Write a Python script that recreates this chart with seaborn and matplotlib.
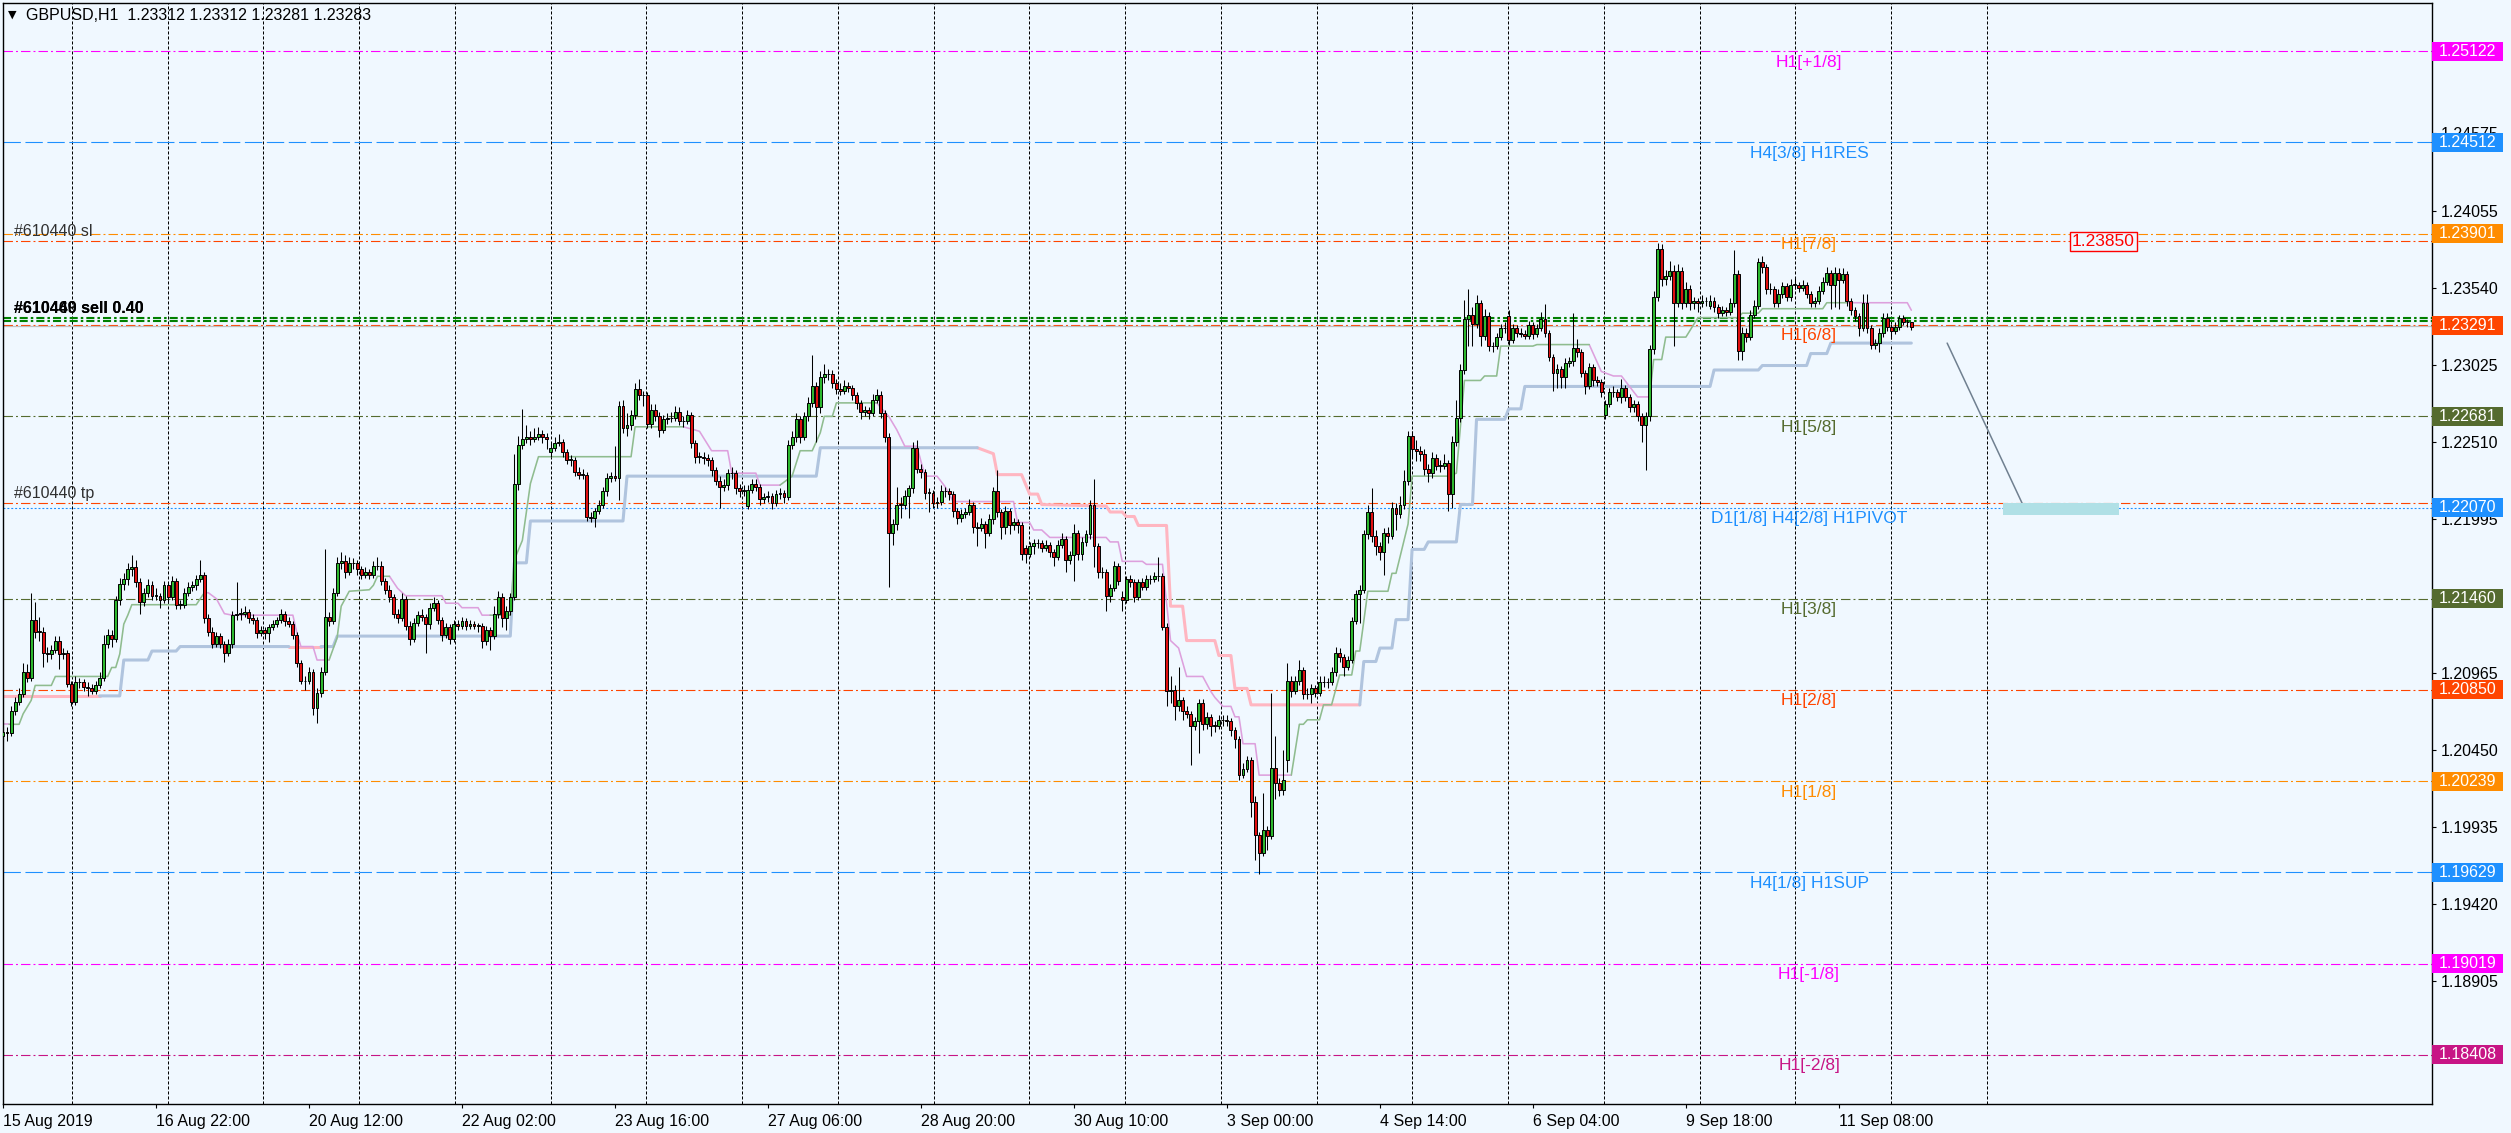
import numpy as np
import pandas as pd
import matplotlib
matplotlib.use("Agg")
import matplotlib.pyplot as plt
import matplotlib.transforms as mtransforms
from matplotlib.patches import Rectangle
import seaborn as sns

BG = "#f0f8ff"
BULL = "#2eb82e"
BEAR = "#e01010"
PLUM = "#dda0dd"
SEAGREEN = "#8fbc8f"
PINK = "#ffb6c1"
STEEL = "#b0c4de"

# ---- GBPUSD H1 candles, bar 0 = 15 Aug 2019 08:00 ----
opens = [
    1.2054, 1.2057, 1.2056, 1.2071, 1.2077, 1.2082, 1.2097, 1.2093, 1.2132, 1.2124,
    1.2124, 1.2110, 1.2109, 1.2112, 1.2118, 1.2109, 1.2110, 1.2089, 1.2077, 1.2090,
    1.2090, 1.2087, 1.2086, 1.2084, 1.2088, 1.2093, 1.2116, 1.2122, 1.2119, 1.2145,
    1.2156, 1.2159, 1.2166, 1.2167, 1.2157, 1.2144, 1.2150, 1.2155, 1.2148, 1.2148,
    1.2145, 1.2155, 1.2147, 1.2158, 1.2142, 1.2142, 1.2150, 1.2154, 1.2155, 1.2159,
    1.2162, 1.2133, 1.2124, 1.2116, 1.2121, 1.2116, 1.2110, 1.2116, 1.2135, 1.2136,
    1.2136, 1.2137, 1.2133, 1.2132, 1.2123, 1.2125, 1.2123, 1.2127, 1.2129, 1.2132,
    1.2136, 1.2131, 1.2129, 1.2122, 1.2103, 1.2091, 1.2091, 1.2097, 1.2073, 1.2083,
    1.2097, 1.2134, 1.2131, 1.2150, 1.2170, 1.2171, 1.2164, 1.2170, 1.2170, 1.2166,
    1.2162, 1.2164, 1.2162, 1.2168, 1.2168, 1.2158, 1.2152, 1.2147, 1.2136, 1.2133,
    1.2146, 1.2128, 1.2119, 1.2130, 1.2135, 1.2134, 1.2129, 1.2140, 1.2143, 1.2132,
    1.2122, 1.2127, 1.2119, 1.2129, 1.2128, 1.2131, 1.2128, 1.2129, 1.2128, 1.2128,
    1.2118, 1.2125, 1.2121, 1.2136, 1.2147, 1.2133, 1.2138, 1.2147, 1.2223, 1.2249,
    1.2253, 1.2254, 1.2253, 1.2254, 1.2256, 1.2254, 1.2244, 1.2247, 1.2250, 1.2251,
    1.2244, 1.2239, 1.2239, 1.2231, 1.2229, 1.2229, 1.2201, 1.2200, 1.2205, 1.2209,
    1.2218, 1.2227, 1.2228, 1.2227, 1.2275, 1.2260, 1.2262, 1.2269, 1.2286, 1.2282,
    1.2282, 1.2263, 1.2272, 1.2268, 1.2259, 1.2266, 1.2267, 1.2267, 1.2271, 1.2265,
    1.2265, 1.2269, 1.2250, 1.2241, 1.2241, 1.2240, 1.2239, 1.2232, 1.2225, 1.2221,
    1.2222, 1.2230, 1.2230, 1.2220, 1.2218, 1.2208, 1.2219, 1.2223, 1.2221, 1.2213,
    1.2214, 1.2215, 1.2210, 1.2216, 1.2217, 1.2214, 1.2249, 1.2254, 1.2266, 1.2254,
    1.2268, 1.2277, 1.2288, 1.2274, 1.2294, 1.2296, 1.2296, 1.2290, 1.2286, 1.2285,
    1.2288, 1.2287, 1.2282, 1.2277, 1.2271, 1.2272, 1.2270, 1.2279, 1.2282, 1.2270,
    1.2254, 1.2190, 1.2196, 1.2209, 1.2209, 1.2215, 1.2220, 1.2247, 1.2233, 1.2231,
    1.2217, 1.2217, 1.2210, 1.2211, 1.2218, 1.2218, 1.2216, 1.2205, 1.2200, 1.2203,
    1.2204, 1.2209, 1.2194, 1.2193, 1.2196, 1.2190, 1.2199, 1.2218, 1.2204, 1.2194,
    1.2205, 1.2195, 1.2197, 1.2195, 1.2180, 1.2176, 1.2181, 1.2183, 1.2183, 1.2180,
    1.2182, 1.2177, 1.2174, 1.2182, 1.2186, 1.2172, 1.2175, 1.2190, 1.2176, 1.2184,
    1.2189, 1.2209, 1.2181, 1.2164, 1.2164, 1.2148, 1.2153, 1.2168, 1.2147, 1.2145,
    1.2159, 1.2157, 1.2147, 1.2157, 1.2154, 1.2159, 1.2159, 1.2161, 1.2161, 1.2127,
    1.2084, 1.2085, 1.2074, 1.2078, 1.2071, 1.2069, 1.2061, 1.2064, 1.2076, 1.2062,
    1.2067, 1.2061, 1.2061, 1.2065, 1.2065, 1.2064, 1.2058, 1.2052, 1.2028, 1.2032,
    1.2038, 1.2010, 1.1988, 1.1976, 1.1991, 1.1987, 1.2033, 1.2023, 1.2018, 1.2038,
    1.2091, 1.2084, 1.2091, 1.2098, 1.2082, 1.2082, 1.2086, 1.2083, 1.2090, 1.2090,
    1.2090, 1.2097, 1.2110, 1.2107, 1.2100, 1.2105, 1.2131, 1.2149, 1.2152, 1.2189,
    1.2204, 1.2188, 1.2181, 1.2177, 1.2190, 1.2188, 1.2207, 1.2203, 1.2209, 1.2225,
    1.2255, 1.2246, 1.2245, 1.2243, 1.2233, 1.2230, 1.2240, 1.2235, 1.2235, 1.2237,
    1.2216, 1.2251, 1.2267, 1.2299, 1.2333, 1.2336, 1.2330, 1.2344, 1.2322, 1.2335,
    1.2315, 1.2315, 1.2321, 1.2327, 1.2335, 1.2319, 1.2327, 1.2324, 1.2323, 1.2322,
    1.2329, 1.2323, 1.2327, 1.2333, 1.2324, 1.2308, 1.2297, 1.2300, 1.2294, 1.2304,
    1.2305, 1.2314, 1.2311, 1.2297, 1.2288, 1.2301, 1.2292, 1.2291, 1.2269, 1.2276,
    1.2284, 1.2284, 1.2281, 1.2287, 1.2281, 1.2274, 1.2276, 1.2268, 1.2262, 1.2268,
    1.2313, 1.2348, 1.2380, 1.2360, 1.2362, 1.2365, 1.2344, 1.2365, 1.2344, 1.2353,
    1.2344, 1.2345, 1.2344, 1.2345, 1.2342, 1.2345, 1.2341, 1.2337, 1.2339, 1.2338,
    1.2344, 1.2363, 1.2312, 1.2324, 1.2321, 1.2336, 1.2342, 1.2371, 1.2368, 1.2353,
    1.2353, 1.2344, 1.2350, 1.2355, 1.2348, 1.2356, 1.2356, 1.2354, 1.2356, 1.2350,
    1.2344, 1.2345, 1.2352, 1.2358, 1.2364, 1.2356, 1.2364, 1.2359, 1.2363, 1.2345,
    1.2339, 1.2335, 1.2327, 1.2344, 1.2327, 1.2316, 1.2317, 1.2324, 1.2334, 1.2328,
    1.2325, 1.2328, 1.2334, 1.2331, 1.2331,
]
highs = [
    1.2061, 1.2060, 1.2074, 1.2080, 1.2086, 1.2103, 1.2102, 1.2150, 1.2144, 1.2134,
    1.2127, 1.2114, 1.2115, 1.2121, 1.2121, 1.2113, 1.2112, 1.2091, 1.2094, 1.2093,
    1.2092, 1.2090, 1.2089, 1.2091, 1.2097, 1.2122, 1.2126, 1.2125, 1.2148, 1.2160,
    1.2163, 1.2170, 1.2175, 1.2172, 1.2160, 1.2153, 1.2159, 1.2158, 1.2153, 1.2150,
    1.2158, 1.2157, 1.2161, 1.2160, 1.2145, 1.2153, 1.2157, 1.2158, 1.2162, 1.2172,
    1.2164, 1.2136, 1.2127, 1.2124, 1.2123, 1.2118, 1.2119, 1.2138, 1.2157, 1.2140,
    1.2141, 1.2139, 1.2136, 1.2134, 1.2128, 1.2127, 1.2129, 1.2132, 1.2134, 1.2139,
    1.2138, 1.2134, 1.2131, 1.2124, 1.2105, 1.2094, 1.2100, 1.2099, 1.2086, 1.2100,
    1.2179, 1.2137, 1.2153, 1.2174, 1.2177, 1.2175, 1.2174, 1.2173, 1.2172, 1.2168,
    1.2167, 1.2166, 1.2171, 1.2174, 1.2171, 1.2160, 1.2155, 1.2149, 1.2139, 1.2150,
    1.2148, 1.2131, 1.2133, 1.2138, 1.2139, 1.2136, 1.2143, 1.2147, 1.2145, 1.2134,
    1.2130, 1.2129, 1.2132, 1.2132, 1.2134, 1.2133, 1.2132, 1.2131, 1.2130, 1.2130,
    1.2128, 1.2127, 1.2141, 1.2151, 1.2150, 1.2141, 1.2150, 1.2243, 1.2255, 1.2273,
    1.2262, 1.2258, 1.2260, 1.2261, 1.2259, 1.2257, 1.2250, 1.2254, 1.2256, 1.2253,
    1.2246, 1.2242, 1.2241, 1.2234, 1.2233, 1.2231, 1.2204, 1.2207, 1.2212, 1.2221,
    1.2230, 1.2231, 1.2248, 1.2278, 1.2279, 1.2270, 1.2272, 1.2290, 1.2293, 1.2285,
    1.2284, 1.2276, 1.2276, 1.2271, 1.2269, 1.2270, 1.2271, 1.2275, 1.2274, 1.2268,
    1.2272, 1.2271, 1.2252, 1.2244, 1.2244, 1.2243, 1.2241, 1.2234, 1.2228, 1.2226,
    1.2233, 1.2234, 1.2232, 1.2223, 1.2222, 1.2222, 1.2226, 1.2226, 1.2223, 1.2217,
    1.2218, 1.2217, 1.2219, 1.2220, 1.2219, 1.2252, 1.2258, 1.2270, 1.2268, 1.2271,
    1.2281, 1.2309, 1.2291, 1.2298, 1.2303, 1.2300, 1.2299, 1.2293, 1.2290, 1.2292,
    1.2291, 1.2289, 1.2284, 1.2279, 1.2275, 1.2274, 1.2283, 1.2286, 1.2285, 1.2272,
    1.2257, 1.2199, 1.2221, 1.2214, 1.2219, 1.2222, 1.2251, 1.2252, 1.2236, 1.2233,
    1.2220, 1.2219, 1.2214, 1.2222, 1.2221, 1.2220, 1.2218, 1.2207, 1.2206, 1.2207,
    1.2213, 1.2211, 1.2197, 1.2200, 1.2198, 1.2203, 1.2221, 1.2232, 1.2206, 1.2208,
    1.2207, 1.2200, 1.2199, 1.2197, 1.2182, 1.2184, 1.2186, 1.2186, 1.2185, 1.2185,
    1.2184, 1.2179, 1.2185, 1.2190, 1.2188, 1.2178, 1.2196, 1.2192, 1.2187, 1.2192,
    1.2212, 1.2226, 1.2183, 1.2167, 1.2166, 1.2156, 1.2171, 1.2170, 1.2151, 1.2161,
    1.2162, 1.2159, 1.2159, 1.2160, 1.2162, 1.2162, 1.2164, 1.2174, 1.2163, 1.2130,
    1.2094, 1.2088, 1.2100, 1.2080, 1.2074, 1.2071, 1.2067, 1.2079, 1.2079, 1.2070,
    1.2069, 1.2064, 1.2068, 1.2068, 1.2068, 1.2066, 1.2060, 1.2054, 1.2036, 1.2041,
    1.2040, 1.2014, 1.1990, 1.2016, 1.1994, 1.2083, 1.2054, 1.2026, 1.2045, 1.2103,
    1.2094, 1.2094, 1.2105, 1.2100, 1.2086, 1.2089, 1.2088, 1.2094, 1.2094, 1.2093,
    1.2100, 1.2114, 1.2113, 1.2109, 1.2108, 1.2134, 1.2152, 1.2155, 1.2192, 1.2209,
    1.2220, 1.2192, 1.2184, 1.2193, 1.2194, 1.2211, 1.2210, 1.2215, 1.2232, 1.2258,
    1.2258, 1.2252, 1.2248, 1.2246, 1.2236, 1.2244, 1.2243, 1.2239, 1.2243, 1.2239,
    1.2255, 1.2279, 1.2303, 1.2346, 1.2353, 1.2341, 1.2349, 1.2346, 1.2340, 1.2338,
    1.2318, 1.2324, 1.2330, 1.2331, 1.2339, 1.2330, 1.2329, 1.2327, 1.2326, 1.2332,
    1.2331, 1.2330, 1.2338, 1.2343, 1.2326, 1.2310, 1.2303, 1.2302, 1.2307, 1.2308,
    1.2337, 1.2320, 1.2313, 1.2299, 1.2304, 1.2303, 1.2295, 1.2293, 1.2279, 1.2287,
    1.2288, 1.2286, 1.2293, 1.2289, 1.2283, 1.2279, 1.2278, 1.2270, 1.2271, 1.2316,
    1.2352, 1.2384, 1.2383, 1.2366, 1.2372, 1.2369, 1.2370, 1.2368, 1.2358, 1.2356,
    1.2348, 1.2347, 1.2349, 1.2348, 1.2349, 1.2348, 1.2343, 1.2342, 1.2341, 1.2347,
    1.2379, 1.2366, 1.2328, 1.2327, 1.2339, 1.2346, 1.2374, 1.2375, 1.2370, 1.2357,
    1.2355, 1.2353, 1.2358, 1.2357, 1.2360, 1.2361, 1.2358, 1.2359, 1.2358, 1.2352,
    1.2348, 1.2355, 1.2361, 1.2368, 1.2366, 1.2368, 1.2367, 1.2367, 1.2365, 1.2347,
    1.2341, 1.2337, 1.2350, 1.2350, 1.2329, 1.2320, 1.2327, 1.2337, 1.2337, 1.2330,
    1.2331, 1.2336, 1.2336, 1.2333, 1.2331,
]
lows = [
    1.2050, 1.2051, 1.2054, 1.2068, 1.2075, 1.2080, 1.2090, 1.2091, 1.2120, 1.2118,
    1.2100, 1.2104, 1.2106, 1.2110, 1.2099, 1.2106, 1.2087, 1.2074, 1.2075, 1.2086,
    1.2084, 1.2081, 1.2082, 1.2082, 1.2086, 1.2091, 1.2113, 1.2114, 1.2117, 1.2142,
    1.2152, 1.2155, 1.2161, 1.2154, 1.2136, 1.2141, 1.2147, 1.2145, 1.2145, 1.2140,
    1.2143, 1.2144, 1.2145, 1.2139, 1.2139, 1.2140, 1.2148, 1.2151, 1.2152, 1.2157,
    1.2130, 1.2121, 1.2113, 1.2114, 1.2113, 1.2104, 1.2108, 1.2113, 1.2132, 1.2132,
    1.2134, 1.2130, 1.2129, 1.2120, 1.2121, 1.2119, 1.2117, 1.2125, 1.2127, 1.2130,
    1.2128, 1.2127, 1.2119, 1.2100, 1.2089, 1.2085, 1.2089, 1.2068, 1.2063, 1.2080,
    1.2095, 1.2128, 1.2129, 1.2148, 1.2166, 1.2160, 1.2162, 1.2166, 1.2162, 1.2159,
    1.2160, 1.2159, 1.2160, 1.2165, 1.2155, 1.2149, 1.2144, 1.2133, 1.2130, 1.2131,
    1.2125, 1.2115, 1.2117, 1.2128, 1.2131, 1.2110, 1.2126, 1.2138, 1.2129, 1.2118,
    1.2120, 1.2116, 1.2117, 1.2125, 1.2126, 1.2125, 1.2126, 1.2126, 1.2124, 1.2113,
    1.2115, 1.2112, 1.2119, 1.2133, 1.2127, 1.2125, 1.2135, 1.2145, 1.2219, 1.2246,
    1.2250, 1.2249, 1.2251, 1.2252, 1.2250, 1.2246, 1.2241, 1.2245, 1.2248, 1.2241,
    1.2236, 1.2235, 1.2228, 1.2226, 1.2226, 1.2198, 1.2197, 1.2194, 1.2203, 1.2207,
    1.2215, 1.2224, 1.2225, 1.2212, 1.2257, 1.2255, 1.2259, 1.2266, 1.2279, 1.2275,
    1.2260, 1.2260, 1.2265, 1.2254, 1.2257, 1.2263, 1.2264, 1.2265, 1.2262, 1.2261,
    1.2263, 1.2247, 1.2237, 1.2237, 1.2236, 1.2235, 1.2228, 1.2222, 1.2207, 1.2218,
    1.2219, 1.2226, 1.2216, 1.2214, 1.2215, 1.2206, 1.2217, 1.2218, 1.2209, 1.2210,
    1.2211, 1.2206, 1.2208, 1.2213, 1.2210, 1.2212, 1.2246, 1.2251, 1.2250, 1.2252,
    1.2265, 1.2274, 1.2251, 1.2270, 1.2290, 1.2292, 1.2287, 1.2283, 1.2282, 1.2283,
    1.2284, 1.2279, 1.2273, 1.2266, 1.2268, 1.2266, 1.2268, 1.2277, 1.2267, 1.2251,
    1.2154, 1.2182, 1.2192, 1.2200, 1.2206, 1.2200, 1.2217, 1.2230, 1.2227, 1.2213,
    1.2204, 1.2207, 1.2207, 1.2209, 1.2214, 1.2212, 1.2201, 1.2196, 1.2197, 1.2200,
    1.2202, 1.2190, 1.2181, 1.2191, 1.2180, 1.2188, 1.2196, 1.2201, 1.2186, 1.2189,
    1.2189, 1.2192, 1.2190, 1.2172, 1.2170, 1.2174, 1.2176, 1.2180, 1.2177, 1.2178,
    1.2174, 1.2168, 1.2172, 1.2180, 1.2164, 1.2169, 1.2158, 1.2172, 1.2172, 1.2181,
    1.2186, 1.2167, 1.2160, 1.2160, 1.2138, 1.2144, 1.2151, 1.2155, 1.2138, 1.2143,
    1.2154, 1.2144, 1.2145, 1.2152, 1.2152, 1.2156, 1.2157, 1.2158, 1.2125, 1.2074,
    1.2076, 1.2065, 1.2071, 1.2065, 1.2066, 1.2035, 1.2058, 1.2043, 1.2058, 1.2059,
    1.2054, 1.2057, 1.2059, 1.2061, 1.2061, 1.2054, 1.2046, 1.2025, 1.2026, 1.2030,
    1.2000, 1.1971, 1.1962, 1.1974, 1.1978, 1.1985, 1.2012, 1.2014, 1.2015, 1.2030,
    1.2080, 1.2082, 1.2088, 1.2079, 1.2079, 1.2076, 1.2080, 1.2081, 1.2087, 1.2086,
    1.2088, 1.2094, 1.2104, 1.2094, 1.2098, 1.2103, 1.2129, 1.2130, 1.2150, 1.2186,
    1.2184, 1.2175, 1.2172, 1.2162, 1.2183, 1.2186, 1.2192, 1.2200, 1.2206, 1.2222,
    1.2240, 1.2238, 1.2238, 1.2229, 1.2224, 1.2227, 1.2232, 1.2231, 1.2233, 1.2205,
    1.2207, 1.2248, 1.2264, 1.2296, 1.2315, 1.2315, 1.2327, 1.2315, 1.2319, 1.2312,
    1.2311, 1.2313, 1.2319, 1.2324, 1.2316, 1.2317, 1.2321, 1.2321, 1.2320, 1.2320,
    1.2320, 1.2321, 1.2325, 1.2321, 1.2305, 1.2285, 1.2287, 1.2287, 1.2287, 1.2301,
    1.2302, 1.2308, 1.2294, 1.2283, 1.2286, 1.2288, 1.2288, 1.2281, 1.2266, 1.2274,
    1.2281, 1.2278, 1.2277, 1.2278, 1.2271, 1.2271, 1.2265, 1.2251, 1.2232, 1.2265,
    1.2310, 1.2345, 1.2355, 1.2356, 1.2359, 1.2315, 1.2341, 1.2340, 1.2341, 1.2339,
    1.2340, 1.2338, 1.2341, 1.2342, 1.2340, 1.2338, 1.2334, 1.2335, 1.2335, 1.2336,
    1.2341, 1.2306, 1.2306, 1.2318, 1.2319, 1.2334, 1.2340, 1.2364, 1.2350, 1.2350,
    1.2341, 1.2341, 1.2347, 1.2345, 1.2345, 1.2353, 1.2351, 1.2352, 1.2347, 1.2341,
    1.2341, 1.2343, 1.2350, 1.2356, 1.2340, 1.2341, 1.2340, 1.2357, 1.2342, 1.2336,
    1.2332, 1.2322, 1.2325, 1.2324, 1.2313, 1.2313, 1.2311, 1.2321, 1.2325, 1.2320,
    1.2323, 1.2326, 1.2329, 1.2328, 1.2326,
]
closes = [
    1.2057, 1.2056, 1.2071, 1.2077, 1.2082, 1.2097, 1.2093, 1.2132, 1.2124, 1.2124,
    1.2110, 1.2109, 1.2112, 1.2118, 1.2109, 1.2110, 1.2089, 1.2077, 1.2090, 1.2090,
    1.2087, 1.2086, 1.2084, 1.2088, 1.2093, 1.2116, 1.2122, 1.2119, 1.2145, 1.2156,
    1.2159, 1.2166, 1.2167, 1.2157, 1.2144, 1.2150, 1.2155, 1.2148, 1.2148, 1.2145,
    1.2155, 1.2147, 1.2158, 1.2142, 1.2142, 1.2150, 1.2154, 1.2155, 1.2159, 1.2162,
    1.2133, 1.2124, 1.2116, 1.2121, 1.2116, 1.2110, 1.2116, 1.2135, 1.2136, 1.2136,
    1.2137, 1.2133, 1.2132, 1.2123, 1.2125, 1.2123, 1.2127, 1.2129, 1.2132, 1.2136,
    1.2131, 1.2129, 1.2122, 1.2103, 1.2091, 1.2091, 1.2097, 1.2073, 1.2083, 1.2097,
    1.2134, 1.2131, 1.2150, 1.2170, 1.2171, 1.2164, 1.2170, 1.2170, 1.2166, 1.2162,
    1.2164, 1.2162, 1.2168, 1.2168, 1.2158, 1.2152, 1.2147, 1.2136, 1.2133, 1.2146,
    1.2128, 1.2119, 1.2130, 1.2135, 1.2134, 1.2129, 1.2140, 1.2143, 1.2132, 1.2122,
    1.2127, 1.2119, 1.2129, 1.2128, 1.2131, 1.2128, 1.2129, 1.2128, 1.2128, 1.2118,
    1.2125, 1.2121, 1.2136, 1.2147, 1.2133, 1.2138, 1.2147, 1.2223, 1.2249, 1.2253,
    1.2254, 1.2253, 1.2254, 1.2256, 1.2254, 1.2253, 1.2247, 1.2250, 1.2251, 1.2244,
    1.2239, 1.2239, 1.2231, 1.2229, 1.2229, 1.2201, 1.2200, 1.2205, 1.2209, 1.2218,
    1.2227, 1.2228, 1.2227, 1.2275, 1.2260, 1.2262, 1.2269, 1.2286, 1.2282, 1.2282,
    1.2263, 1.2272, 1.2268, 1.2259, 1.2266, 1.2267, 1.2267, 1.2271, 1.2265, 1.2265,
    1.2269, 1.2250, 1.2241, 1.2241, 1.2240, 1.2239, 1.2232, 1.2225, 1.2221, 1.2222,
    1.2230, 1.2230, 1.2220, 1.2218, 1.2219, 1.2219, 1.2223, 1.2221, 1.2213, 1.2214,
    1.2215, 1.2210, 1.2216, 1.2217, 1.2214, 1.2249, 1.2254, 1.2266, 1.2254, 1.2268,
    1.2277, 1.2288, 1.2274, 1.2294, 1.2296, 1.2296, 1.2290, 1.2286, 1.2285, 1.2288,
    1.2287, 1.2282, 1.2277, 1.2271, 1.2272, 1.2270, 1.2279, 1.2282, 1.2270, 1.2254,
    1.2190, 1.2196, 1.2209, 1.2209, 1.2215, 1.2220, 1.2247, 1.2233, 1.2231, 1.2217,
    1.2217, 1.2210, 1.2211, 1.2218, 1.2218, 1.2216, 1.2205, 1.2200, 1.2203, 1.2204,
    1.2209, 1.2194, 1.2193, 1.2196, 1.2190, 1.2199, 1.2218, 1.2204, 1.2194, 1.2205,
    1.2195, 1.2197, 1.2195, 1.2176, 1.2176, 1.2181, 1.2183, 1.2183, 1.2180, 1.2182,
    1.2177, 1.2174, 1.2182, 1.2186, 1.2172, 1.2175, 1.2190, 1.2176, 1.2184, 1.2189,
    1.2209, 1.2181, 1.2164, 1.2164, 1.2148, 1.2153, 1.2168, 1.2158, 1.2145, 1.2159,
    1.2157, 1.2147, 1.2157, 1.2154, 1.2159, 1.2159, 1.2161, 1.2161, 1.2127, 1.2084,
    1.2085, 1.2074, 1.2078, 1.2071, 1.2069, 1.2061, 1.2064, 1.2076, 1.2062, 1.2067,
    1.2061, 1.2061, 1.2065, 1.2065, 1.2064, 1.2058, 1.2052, 1.2028, 1.2032, 1.2038,
    1.2010, 1.1988, 1.1976, 1.1991, 1.1987, 1.2033, 1.2023, 1.2018, 1.2025, 1.2091,
    1.2084, 1.2091, 1.2098, 1.2082, 1.2082, 1.2086, 1.2083, 1.2090, 1.2090, 1.2090,
    1.2097, 1.2110, 1.2107, 1.2100, 1.2105, 1.2131, 1.2149, 1.2152, 1.2189, 1.2204,
    1.2188, 1.2181, 1.2177, 1.2190, 1.2188, 1.2207, 1.2203, 1.2209, 1.2225, 1.2255,
    1.2246, 1.2245, 1.2243, 1.2233, 1.2230, 1.2240, 1.2235, 1.2235, 1.2237, 1.2216,
    1.2251, 1.2267, 1.2299, 1.2333, 1.2336, 1.2330, 1.2344, 1.2322, 1.2335, 1.2315,
    1.2315, 1.2321, 1.2327, 1.2327, 1.2319, 1.2327, 1.2324, 1.2323, 1.2322, 1.2329,
    1.2323, 1.2327, 1.2333, 1.2324, 1.2308, 1.2297, 1.2300, 1.2294, 1.2304, 1.2305,
    1.2314, 1.2311, 1.2297, 1.2288, 1.2301, 1.2292, 1.2291, 1.2284, 1.2276, 1.2284,
    1.2284, 1.2281, 1.2287, 1.2281, 1.2274, 1.2276, 1.2268, 1.2262, 1.2268, 1.2313,
    1.2348, 1.2380, 1.2360, 1.2362, 1.2365, 1.2344, 1.2365, 1.2344, 1.2353, 1.2344,
    1.2345, 1.2344, 1.2345, 1.2345, 1.2345, 1.2341, 1.2337, 1.2339, 1.2338, 1.2344,
    1.2363, 1.2312, 1.2324, 1.2321, 1.2336, 1.2342, 1.2371, 1.2368, 1.2353, 1.2353,
    1.2344, 1.2350, 1.2355, 1.2348, 1.2356, 1.2356, 1.2354, 1.2356, 1.2350, 1.2344,
    1.2345, 1.2352, 1.2358, 1.2364, 1.2356, 1.2364, 1.2359, 1.2363, 1.2345, 1.2339,
    1.2335, 1.2327, 1.2344, 1.2327, 1.2316, 1.2317, 1.2324, 1.2334, 1.2328, 1.2325,
    1.2328, 1.2334, 1.2331, 1.2331, 1.2328,
]

# ---- trailing stop indicator, (bar, price) vertices ----
plum_segs = [
    [(0, 1.2062), (1.5, 1.2062)],
    [(50, 1.2150), (51, 1.2150), (53, 1.2146), (55, 1.2136), (57, 1.2135), (72, 1.2135),
     (73, 1.2123), (74, 1.2114), (77, 1.2114), (78, 1.2105), (81, 1.2105)],
    [(96, 1.2161), (98, 1.2153), (100, 1.2148), (109, 1.2148), (110, 1.2143), (113, 1.2143),
     (114, 1.2140), (118, 1.2140), (119, 1.2135), (121, 1.2135)],
    [(169, 1.2261), (173, 1.2258), (176, 1.2245), (180, 1.2245), (181, 1.2230), (187, 1.2230),
     (188, 1.2222), (193, 1.2222)],
    [(217, 1.2277), (220, 1.2268), (222, 1.2259), (224, 1.2248), (227, 1.2248), (229, 1.2228),
     (232, 1.2228), (234, 1.2221), (236, 1.2211), (251, 1.2211), (252, 1.2197), (255, 1.2197),
     (256, 1.2192), (258, 1.2192), (260, 1.2187), (274, 1.2187), (275, 1.2184), (277, 1.2184),
     (278, 1.2171), (283, 1.2171), (284, 1.2169), (288, 1.2169), (290, 1.2118), (292, 1.2113),
     (294, 1.2094), (298, 1.2094), (300, 1.2084), (301, 1.2080), (303, 1.2074), (305, 1.2074),
     (306, 1.2067), (307, 1.2067), (308, 1.2049), (311, 1.2049), (312, 1.2028), (320, 1.2028)],
    [(394, 1.2316), (397, 1.2298), (400, 1.2295), (402, 1.2295), (404, 1.2288), (406, 1.2281),
     (409, 1.2281)],
    [(458, 1.2344), (473, 1.2344), (474, 1.2339)],
]
green_segs = [
    [(1.5, 1.2062), (4, 1.2062), (5, 1.2069), (7, 1.2078), (8, 1.2088), (12, 1.2088),
     (13, 1.2094), (26, 1.2094), (27, 1.2100), (28, 1.2100), (29, 1.2109), (30, 1.2129),
     (31, 1.2135), (32, 1.2142), (48, 1.2142), (50, 1.2150)],
    [(81, 1.2105), (83, 1.2120), (84, 1.2141), (86, 1.2151), (91, 1.2152), (92, 1.2155),
     (93, 1.2161), (96, 1.2161)],
    [(121, 1.2135), (126, 1.2135), (127, 1.2172), (129, 1.2185), (131, 1.2223), (133, 1.2241),
     (156, 1.2241), (157, 1.2261), (169, 1.2261)],
    [(193, 1.2222), (196, 1.2228), (198, 1.2245), (201, 1.2245), (203, 1.2257), (204, 1.2268),
     (206, 1.2268), (207, 1.2277), (217, 1.2277)],
    [(320, 1.2028), (322, 1.2062), (323, 1.2062), (324, 1.2065), (327, 1.2065), (328, 1.2075),
     (330, 1.2075), (332, 1.2095), (335, 1.2095), (336, 1.2111), (337, 1.2111), (339, 1.2151),
     (344, 1.2151), (345, 1.2163), (346, 1.2163), (349, 1.2196), (350, 1.2228), (359, 1.2228),
     (361, 1.2230), (363, 1.2292), (367, 1.2292), (368, 1.2295), (371, 1.2295), (372, 1.2315),
     (380, 1.2315), (381, 1.2316), (394, 1.2316)],
    [(409, 1.2281), (410, 1.2306), (412, 1.2306), (413, 1.2321), (418, 1.2321), (421, 1.2334),
     (431, 1.2334), (432, 1.2337), (436, 1.2337), (437, 1.2340), (452, 1.2340), (453, 1.2344),
     (458, 1.2344)],
]
pink_segs = [
    [(0, 1.2081), (24, 1.2081)],
    [(71, 1.2114), (79, 1.2114)],
    [(242, 1.2247), (246, 1.2243), (247, 1.2229), (253, 1.2229), (255, 1.2216), (257, 1.2216),
     (258, 1.2209), (274, 1.2208), (275, 1.2204), (278, 1.2204), (279, 1.2201), (281, 1.2201),
     (282, 1.2195), (289, 1.2195), (290, 1.2141), (293, 1.2141), (294, 1.2118), (301, 1.2118),
     (302, 1.2108), (305, 1.2108), (306, 1.2086), (309, 1.2086), (310, 1.2075), (337, 1.2075)],
]
steel_segs = [
    [(24, 1.2081), (29, 1.2081), (30, 1.2105), (36, 1.2105), (37, 1.2111), (43, 1.2111),
     (44, 1.2114), (71, 1.2114)],
    [(79, 1.2114), (82, 1.2114), (83, 1.2121), (126, 1.2121), (127, 1.2170), (130, 1.2170),
     (131, 1.2198), (154, 1.2198), (155, 1.2228), (202, 1.2228), (203, 1.2247), (242, 1.2247)],
    [(337, 1.2075), (338, 1.2104), (341, 1.2104), (342, 1.2113), (345, 1.2113), (346, 1.2132),
     (349, 1.2132), (350, 1.2179), (353, 1.2179), (354, 1.2184), (361, 1.2184), (362, 1.2209),
     (365, 1.2209), (366, 1.2266), (373, 1.2266), (374, 1.2273), (377, 1.2273), (378, 1.2288),
     (424, 1.2288), (425, 1.2299), (436, 1.2299), (437, 1.2302), (448, 1.2302), (449, 1.2310),
     (453, 1.2310), (454, 1.2317), (474, 1.2317)],
]

# ---- Murrey math levels ----
levels = [1.25122, 1.24512, 1.23901, 1.23291, 1.22681, 1.22070,
          1.21460, 1.20850, 1.20239, 1.19629, 1.19019, 1.18408]
level_names = ["H1[+1/8]", "H4[3/8] H1RES", "H1[7/8]", "H1[6/8]", "H1[5/8]",
               "D1[1/8] H4[2/8] H1PIVOT", "H1[3/8]", "H1[2/8]", "H1[1/8]",
               "H4[1/8] H1SUP", "H1[-1/8]", "H1[-2/8]"]
level_colors = ["#ff00ff", "#1e90ff", "#ff8c00", "#ff4500", "#556b2f", "#1e90ff",
                "#556b2f", "#ff4500", "#ff8c00", "#1e90ff", "#ff00ff", "#c71585"]
DASHDOT = (0, (6.8, 2.2, 1.4, 2.2))
LONGDASH = (0, (12.5, 3.3))
DOTTED = (0, (1.4, 1.4))
level_styles = [DASHDOT, LONGDASH, DASHDOT, DASHDOT, DASHDOT, DOTTED,
                DASHDOT, DASHDOT, DASHDOT, LONGDASH, DASHDOT, DASHDOT]

# orders
sl_price = 1.2385
tp_price = 1.2210
sell_prices = [1.23335, 1.23319]
sell_labels = ["#610469 sell 0.40", "#610440 sell 0.40"]
bid_price = 1.23283

trend_bars = [482.9, 501.5]
trend_prices = [1.2317, 1.2210]
zone_bars = [496.8, 525.6]
zone_prices = [1.2202, 1.2210]

time_ticks = [0, 38, 76, 114, 152, 190, 228, 266, 304, 342, 380, 418, 456]
time_labels = ["15 Aug 2019", "16 Aug 22:00", "20 Aug 12:00", "22 Aug 02:00",
               "23 Aug 16:00", "27 Aug 06:00", "28 Aug 20:00", "30 Aug 10:00",
               "3 Sep 00:00", "4 Sep 14:00", "6 Sep 04:00", "9 Sep 18:00",
               "11 Sep 08:00"]
price_ticks = [1.18905, 1.19420, 1.19935, 1.20450, 1.20965, 1.21480,
               1.21995, 1.22510, 1.23025, 1.23540, 1.24055, 1.24575]

assert len(opens) == len(highs) == len(lows) == len(closes)

sns.set_style("white", {"axes.facecolor": BG, "figure.facecolor": BG})
plt.rcParams["font.family"] = ["Liberation Sans", "DejaVu Sans"]
plt.rcParams["lines.scale_dashes"] = False

W, H = 2511, 1133
L_PX, R_PX, T_PX, B_PX = 3, 2432, 3, 1104
BAR_PX = 4.026
fig = plt.figure(figsize=(W / 100, H / 100), dpi=100)
fig.patch.set_facecolor(BG)
ax = fig.add_axes([L_PX / W, 1 - B_PX / H, (R_PX - L_PX) / W, (B_PX - T_PX) / H])
ax.set_facecolor(BG)

o = np.array(opens)
hi = np.array(highs)
lo = np.array(lows)
c = np.array(closes)
x = np.arange(len(c))
up = c >= o

# vertical grid (every 96 px)
grid_x = 17.14 + 23.78 * np.arange(21)
for gx in grid_x:
    ax.axvline(gx, color="black", lw=0.72, ls=(0, (2.2, 1.4)), zorder=1)

for lv, col, st in zip(levels, level_colors, level_styles):
    ax.axhline(lv, color=col, lw=0.8, ls=st, zorder=1)

ax.axhline(sl_price, color="#ff4500", lw=0.8, ls=DASHDOT, zorder=1)
ax.axhline(tp_price, color="#ff4500", lw=0.8, ls=DASHDOT, zorder=1)
for sp in sell_prices:
    ax.axhline(sp, color="#008000", lw=1.5, ls=(0, (5.8, 2.2, 1.8, 2.2)), zorder=1)
ax.axhline(bid_price, color="#c0c0c0", lw=0.9, zorder=1)


def seg_frame(segs):
    rows = []
    for k, seg in enumerate(segs):
        for bx, py in seg:
            rows.append((k, bx, py))
    return pd.DataFrame(rows, columns=["seg", "bar", "price"])


for segs, col, lw in [(pink_segs, PINK, 2.2), (steel_segs, STEEL, 2.2),
                      (plum_segs, PLUM, 1.15), (green_segs, SEAGREEN, 1.15)]:
    sns.lineplot(data=seg_frame(segs), x="bar", y="price", units="seg",
                 estimator=None, sort=False, color=col, lw=lw, ax=ax,
                 legend=False, zorder=2)

# candles
ax.vlines(x, lo, hi, color="black", lw=0.75, zorder=4)
body_lo = np.minimum(o, c)
body_h = np.maximum(np.abs(c - o), 0.00002)
ax.bar(x[up], body_h[up], bottom=body_lo[up], width=0.72, color=BULL,
       edgecolor="black", linewidth=0.7, zorder=5)
ax.bar(x[~up], body_h[~up], bottom=body_lo[~up], width=0.72, color=BEAR,
       edgecolor="black", linewidth=0.7, zorder=5)

# trend line and target zone
ax.plot(trend_bars, trend_prices, color="#708090", lw=1.1, zorder=6)
ax.fill_between(zone_bars, zone_prices[0], zone_prices[1], color="#b0e0e6", lw=0, zorder=6)

# level labels
LABEL_BAR = 448.6
for lv, nm, col in zip(levels, level_names, level_colors):
    ax.annotate(nm, xy=(LABEL_BAR, lv), xytext=(0, -2.5), textcoords="offset points",
                ha="center", va="top", color=col, fontsize=12.5, zorder=7)

ax.annotate("1.23850", xy=(521.7, sl_price), ha="center", va="center", color="red",
            fontsize=12.5, zorder=8,
            bbox=dict(boxstyle="square,pad=0.12", fc=BG, ec="red", lw=1))

trans = mtransforms.blended_transform_factory(ax.transAxes, ax.transData)
ax.annotate("#610440 sl", xy=(0.0045, sl_price), xycoords=trans, xytext=(0, 1.5),
            textcoords="offset points", va="bottom", fontsize=11.5, color="#303030")
ax.annotate("#610440 tp", xy=(0.0045, tp_price), xycoords=trans, xytext=(0, 1.5),
            textcoords="offset points", va="bottom", fontsize=11.5, color="#303030")
for sp, lab in zip(sell_prices, sell_labels):
    ax.annotate(lab, xy=(0.0045, sell_prices[0]), xycoords=trans, xytext=(0, 1.5),
                textcoords="offset points", va="bottom", fontsize=11.5,
                color="black", fontweight="bold")

# right-side price boxes
box_w = 71 / (R_PX - L_PX)
box_h = 9.5 / 14950
for lv, col in zip(levels, level_colors):
    ax.add_patch(Rectangle((1.0, lv - box_h), box_w, 2 * box_h, transform=trans,
                           fc=col, ec="none", clip_on=False, zorder=10))
    ax.text(1.0 + box_w / 2, lv, f"{lv:.5f}", transform=trans, ha="center",
            va="center", color="white", fontsize=11.5, clip_on=False, zorder=11)

ax.set_xlim(0, (R_PX - L_PX) / BAR_PX)
ax.set_ylim(1.18080, 1.25445)
ax.set_xlabel("")
ax.set_ylabel("")

ax.set_xticks(time_ticks)
ax.set_xticklabels(time_labels, ha="left")
ax.yaxis.tick_right()
ax.set_yticks(price_ticks)
ax.set_yticklabels([f"{v:.5f}" for v in price_ticks])
ax.tick_params(axis="x", direction="out", length=3, width=0.8, pad=4,
               labelsize=11.5, colors="black", bottom=True)
ax.tick_params(axis="y", direction="out", length=3, width=0.8, pad=3,
               labelsize=11.5, colors="black", right=True, left=False)
for sp in ax.spines.values():
    sp.set_visible(True)
    sp.set_color("black")
    sp.set_linewidth(1.0)

fig.text(8 / W, 1 - 15 / H, "\u25bc", fontsize=8, va="center", color="black",
         family=["DejaVu Sans"])
fig.text(26 / W, 1 - 15 / H, "GBPUSD,H1  1.23312 1.23312 1.23281 1.23283",
         fontsize=11.5, va="center", color="black")

fig.savefig("out.png", dpi=100, facecolor=BG)
